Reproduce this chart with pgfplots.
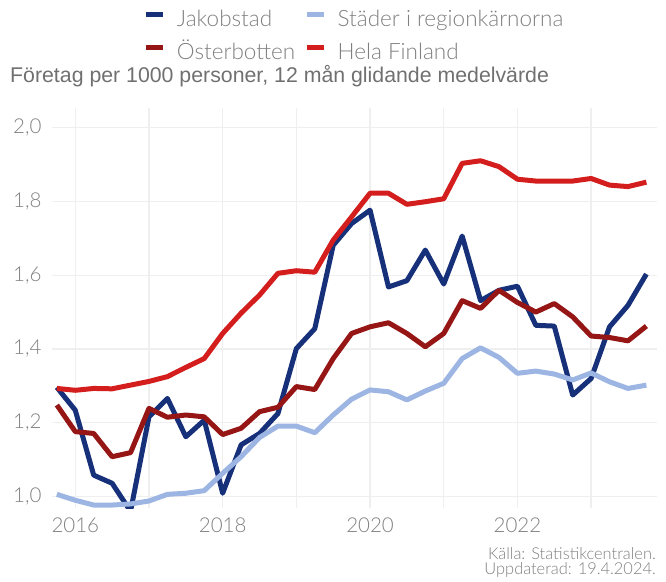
\documentclass[border=0pt]{standalone}
\usepackage{fontspec}
\usepackage{pgfplots}
\usepackage{pgfplotstable}
\pgfplotsset{compat=1.18}
\setmainfont{Lato Light}
\newfontfamily\titlefont{Liberation Sans}
\definecolor{jakc}{HTML}{16307A}
\definecolor{stadc}{HTML}{9CB5E2}
\definecolor{ostc}{HTML}{961616}
\definecolor{finc}{HTML}{D41E1E}
\definecolor{gridc}{HTML}{EFEFEF}
\definecolor{txtc}{HTML}{808080}
\definecolor{titc}{HTML}{707070}

\pgfplotstableread{
x       jak    stad   ost    fin
2015.75 1.296  1.006  1.248  1.293
2016.00 1.234  0.990  1.176  1.288
2016.25 1.058  0.977  1.171  1.293
2016.50 1.036  0.977  1.108  1.292
2016.75 0.960  0.980  1.119  1.302
2017.00 1.216  0.988  1.239  1.312
2017.25 1.266  1.006  1.215  1.325
2017.50 1.162  1.009  1.221  1.350
2017.75 1.207  1.016  1.216  1.374
2018.00 1.009  1.063  1.168  1.442
2018.25 1.140  1.108  1.185  1.497
2018.50 1.171  1.160  1.230  1.546
2018.75 1.225  1.191  1.242  1.605
2019.00 1.401  1.191  1.298  1.612
2019.25 1.455  1.173  1.290  1.608
2019.50 1.681  1.221  1.374  1.695
2019.75 1.740  1.264  1.442  1.758
2020.00 1.776  1.289  1.460  1.822
2020.25 1.568  1.284  1.471  1.822
2020.50 1.585  1.262  1.442  1.792
2020.75 1.668  1.286  1.406  1.799
2021.00 1.576  1.307  1.442  1.807
2021.25 1.706  1.374  1.531  1.903
2021.50 1.531  1.403  1.510  1.910
2021.75 1.559  1.377  1.559  1.894
2022.00 1.570  1.334  1.526  1.860
2022.25 1.464  1.340  1.500  1.855
2022.50 1.462  1.332  1.523  1.855
2022.75 1.275  1.316  1.487  1.855
2023.00 1.320  1.335  1.435  1.862
2023.25 1.460  1.311  1.431  1.844
2023.50 1.518  1.293  1.422  1.840
2023.75 1.603  1.302  1.462  1.852
}\datatable

\begin{document}
\begin{tikzpicture}[x=1pt,y=1pt]
\useasboundingbox (0,0) rectangle (666,581);
\begin{axis}[
  at={(51.7pt,73pt)}, anchor=south west,
  scale only axis, width=605pt, height=400pt,
  xmin=2015.68, xmax=2023.89, ymin=0.969, ymax=2.053,
  axis line style={draw=none},
  major tick length=0pt,
  grid=major, grid style={color=gridc, line width=1.3pt},
  xtick={2016,2017,2018,2019,2020,2021,2022,2023},
  xticklabels={2016,,2018,,2020,,2022,},
  ytick={1,1.2,1.4,1.6,1.8,2},
  /pgf/number format/assume math mode=true,
  yticklabel style={/pgf/number format/fixed, /pgf/number format/fixed zerofill, /pgf/number format/precision=1, /pgf/number format/use comma},
  tick label style={font=\fontsize{20.5}{24}\selectfont, text=txtc},
  xticklabel style={inner sep=0pt, anchor=north, yshift=-10pt},
  yticklabel style={inner sep=0pt, anchor=east, xshift=-10pt},
  every axis plot/.append style={line width=5pt, line join=round},
  legend columns=2,
  legend image code/.code={\draw[#1, line width=5pt] (0pt,6.7pt) -- (17pt,6.7pt);},
  legend style={draw=none, fill=none, inner sep=0pt, outer sep=0pt,
    at={(axis description cs:0.1517,1.2433)}, anchor=north west,
    font=\fontsize{22.5}{26}\selectfont, text=txtc,
    nodes={inner sep=0pt, text height=16pt, text depth=5pt},
    row sep=11.6pt,
    /tikz/every odd column/.append style={column sep=11.5pt},
    /tikz/every even column/.append style={column sep=9pt},
  },
  legend cell align=left,
]
\addplot[color=jakc] table[x=x, y=jak] {\datatable};
\addlegendentry{Jakobstad}
\addplot[color=stadc] table[x=x, y=stad] {\datatable};
\addlegendentry{Städer i regionkärnorna}
\addplot[color=ostc] table[x=x, y=ost] {\datatable};
\addlegendentry{Österbotten}
\addplot[color=finc] table[x=x, y=fin] {\datatable};
\addlegendentry{Hela Finland}
\end{axis}
\node[anchor=base west, inner sep=0pt, text=titc, font=\titlefont\fontsize{21.3}{24}\selectfont] at (10,498.3) {Företag per 1000 personer, 12 mån glidande medelvärde};
\node[anchor=base east, inner sep=0pt, text=txtc, font=\fontsize{16.4}{18}\selectfont] at (656,21.7) {Källa: Statistikcentralen.};
\node[anchor=base east, inner sep=0pt, text=txtc, font=\fontsize{16.4}{18}\selectfont] at (656,6.7) {Uppdaterad: 19.4.2024.};
\end{tikzpicture}
\end{document}
